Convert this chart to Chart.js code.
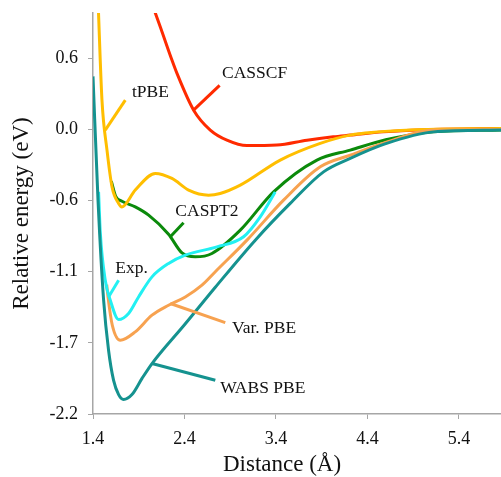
<!DOCTYPE html>
<html>
<head>
<meta charset="utf-8">
<script src="https://cdn.jsdelivr.net/npm/chart.js@4"></script>
<style>
  html, body { margin: 0; padding: 0; background: #fff; }
  #wrap { width: 501px; height: 477px; }
</style>
</head>
<body>
<div id="wrap"><canvas id="c" width="501" height="477"></canvas></div>
<script>
// distance (Å) / relative energy (eV)
const casscfX = [2.03, 2.135, 2.263, 2.318, 2.50, 2.682, 2.864, 3.083, 3.41, 3.739, 4.026, 4.212, 4.573, 5.12, 5.86];
const casscfY = [1.0, 0.794, 0.536, 0.433, 0.149, -0.005, -0.083, -0.125, -0.121, -0.083, -0.057, -0.044, -0.019, 0.0, 0.008];

const tpbeX = [1.455, 1.498, 1.553, 1.608, 1.68, 1.717, 1.862, 2.081, 2.263, 2.445, 2.663, 2.79, 3.01, 3.447, 3.884, 4.212, 4.868, 5.86];
const tpbeY = [1.0, 0.227, -0.16, -0.444, -0.572, -0.599, -0.469, -0.34, -0.379, -0.469, -0.508, -0.495, -0.431, -0.237, -0.108, -0.044, -0.005, 0.008];

const caspt2X = [1.60, 1.65, 1.717, 1.862, 2.008, 2.226, 2.373, 2.518, 2.70, 3.01, 3.374, 3.848, 4.212, 4.60, 5.12, 5.86];
const caspt2Y = [-0.40, -0.52, -0.555, -0.599, -0.663, -0.81, -0.955, -0.985, -0.959, -0.779, -0.483, -0.237, -0.16, -0.08, -0.019, -0.005];

const expX = [1.461, 1.48, 1.534, 1.589, 1.68, 1.789, 1.898, 2.045, 2.226, 2.409, 2.755, 3.046, 3.228, 3.392];
const expY = [-0.483, -0.80, -1.166, -1.32, -1.47, -1.423, -1.295, -1.14, -1.036, -0.972, -0.908, -0.83, -0.676, -0.483];

const varPbeX = [1.55, 1.564, 1.611, 1.698, 1.862, 2.045, 2.226, 2.409, 2.591, 2.737, 3.083, 3.483, 3.884, 4.212, 4.60, 5.12, 5.86];
const varPbeY = [-1.2, -1.295, -1.514, -1.63, -1.565, -1.436, -1.359, -1.295, -1.204, -1.10, -0.856, -0.547, -0.289, -0.199, -0.10, -0.005, 0.0];

const wabsX = [1.40, 1.455, 1.516, 1.57, 1.625, 1.68, 1.734, 1.826, 1.936, 2.045, 2.40, 2.737, 3.174, 3.556, 3.92, 4.212, 4.60, 5.12, 5.86];
const wabsY = [0.41, -0.55, -1.32, -1.707, -1.94, -2.05, -2.088, -2.05, -1.925, -1.81, -1.51, -1.22, -0.856, -0.572, -0.328, -0.224, -0.11, -0.019, -0.005];

const xTickValues = [1.4, 2.4, 3.4, 4.4, 5.4];
const xTickLabels = ['1.4', '2.4', '3.4', '4.4', '5.4'];
const yTickValues = [-2.2, -1.65, -1.1, -0.55, 0, 0.55];
const yTickLabels = ['-2.2', '-1.7', '-1.1', '-0.6', '0.0', '0.6'];

// in-plot labels: text, text anchor (x, y), leader line from (x1, y1) to (x2, y2)
const labelTexts = ['tPBE', 'CASSCF', 'CASPT2', 'Exp.', 'Var. PBE', 'WABS PBE'];
const labelX = [1.826, 2.81, 2.30, 1.644, 2.919, 2.791];
const labelY = [0.288, 0.435, -0.632, -1.073, -1.537, -2.0];
const leaderX1 = [1.753, 2.784, 2.39, 1.68, 2.846, 2.737];
const leaderY1 = [0.227, 0.340, -0.722, -1.166, -1.493, -1.939];
const leaderX2 = [1.534, 2.499, 2.245, 1.57, 2.245, 2.045];
const leaderY2 = [-0.005, 0.149, -0.83, -1.295, -1.346, -1.81];
const labelColors = ['#FFBE00', '#FF2A00', '#0B8A0B', '#22F0F2', '#F7A250', '#15928F'];

const serif = "'Liberation Serif', 'Times New Roman', serif";

function pts(xs, ys) {
    return xs.map((x, i) => ({ x: x, y: ys[i] }));
}

function line(label, xs, ys, color) {
    return {
        label: label,
        data: pts(xs, ys),
        borderColor: color,
        backgroundColor: color,
        borderWidth: 3,
        pointRadius: 0,
        fill: false,
        cubicInterpolationMode: 'monotone'
    };
}

const labelsPlugin = {
    id: 'labels',
    afterDatasetsDraw(chart) {
        const { ctx, scales: { x, y }, chartArea } = chart;
        ctx.save();
        ctx.lineWidth = 3;
        ctx.lineCap = 'butt';
        labelTexts.forEach((t, i) => {
            ctx.strokeStyle = labelColors[i];
            ctx.beginPath();
            ctx.moveTo(x.getPixelForValue(leaderX1[i]), y.getPixelForValue(leaderY1[i]));
            ctx.lineTo(x.getPixelForValue(leaderX2[i]), y.getPixelForValue(leaderY2[i]));
            ctx.stroke();
            ctx.fillStyle = '#111';
            ctx.font = '17.5px ' + serif;
            ctx.textAlign = 'left';
            ctx.textBaseline = 'middle';
            ctx.fillText(t, x.getPixelForValue(labelX[i]), y.getPixelForValue(labelY[i]));
        });
        // axis titles
        ctx.font = '23px ' + serif;
        ctx.textAlign = 'center';
        ctx.textBaseline = 'middle';
        ctx.fillText('Distance (Å)', 282, 465);
        ctx.translate(22, (chartArea.top + chartArea.bottom) / 2);
        ctx.rotate(-Math.PI / 2);
        ctx.fillText('Relative energy (eV)', 0, 0);
        ctx.restore();
    }
};

const ctx = document.getElementById('c').getContext('2d');
new Chart(ctx, {
    type: 'line',
    data: {
        datasets: [
            line('WABS PBE', wabsX, wabsY, '#15928F'),
            line('Exp.', expX, expY, '#22F0F2'),
            line('Var. PBE', varPbeX, varPbeY, '#F7A250'),
            line('tPBE', tpbeX, tpbeY, '#FFBE00'),
            line('CASPT2', caspt2X, caspt2Y, '#0B8A0B'),
            line('CASSCF', casscfX, casscfY, '#FF2A00')
        ]
    },
    options: {
        responsive: false,
        animation: false,
        layout: { padding: { top: 13, left: 0, right: 0, bottom: 0 } },
        plugins: {
            legend: { display: false },
            tooltip: { enabled: false }
        },
        scales: {
            x: {
                type: 'linear',
                min: 1.4,
                max: 5.86,
                afterFit: s => { s.height = 63; s.paddingRight = 0; },
                afterBuildTicks: s => { s.ticks = xTickValues.map(v => ({ value: v })); },
                grid: { drawOnChartArea: false, drawTicks: true, tickLength: 5, color: '#a6a6a6' },
                border: { color: '#a6a6a6', width: 1.5 },
                ticks: {
                    padding: 9,
                    color: '#111',
                    font: { family: serif, size: 18 },
                    maxRotation: 0,
                    callback: (v, i) => xTickLabels[i]
                }
            },
            y: {
                type: 'linear',
                min: -2.2,
                max: 0.9,
                afterFit: s => { s.width = 93; s.paddingTop = 0; s.paddingBottom = 0; },
                afterBuildTicks: s => { s.ticks = yTickValues.map(v => ({ value: v })); },
                grid: { drawOnChartArea: false, drawTicks: true, tickLength: 5, color: '#a6a6a6' },
                border: { color: '#a6a6a6', width: 1.5 },
                ticks: {
                    padding: 10,
                    color: '#111',
                    font: { family: serif, size: 18 },
                    callback: (v, i) => yTickLabels[i]
                }
            }
        }
    },
    plugins: [labelsPlugin]
});
</script>
</body>
</html>
